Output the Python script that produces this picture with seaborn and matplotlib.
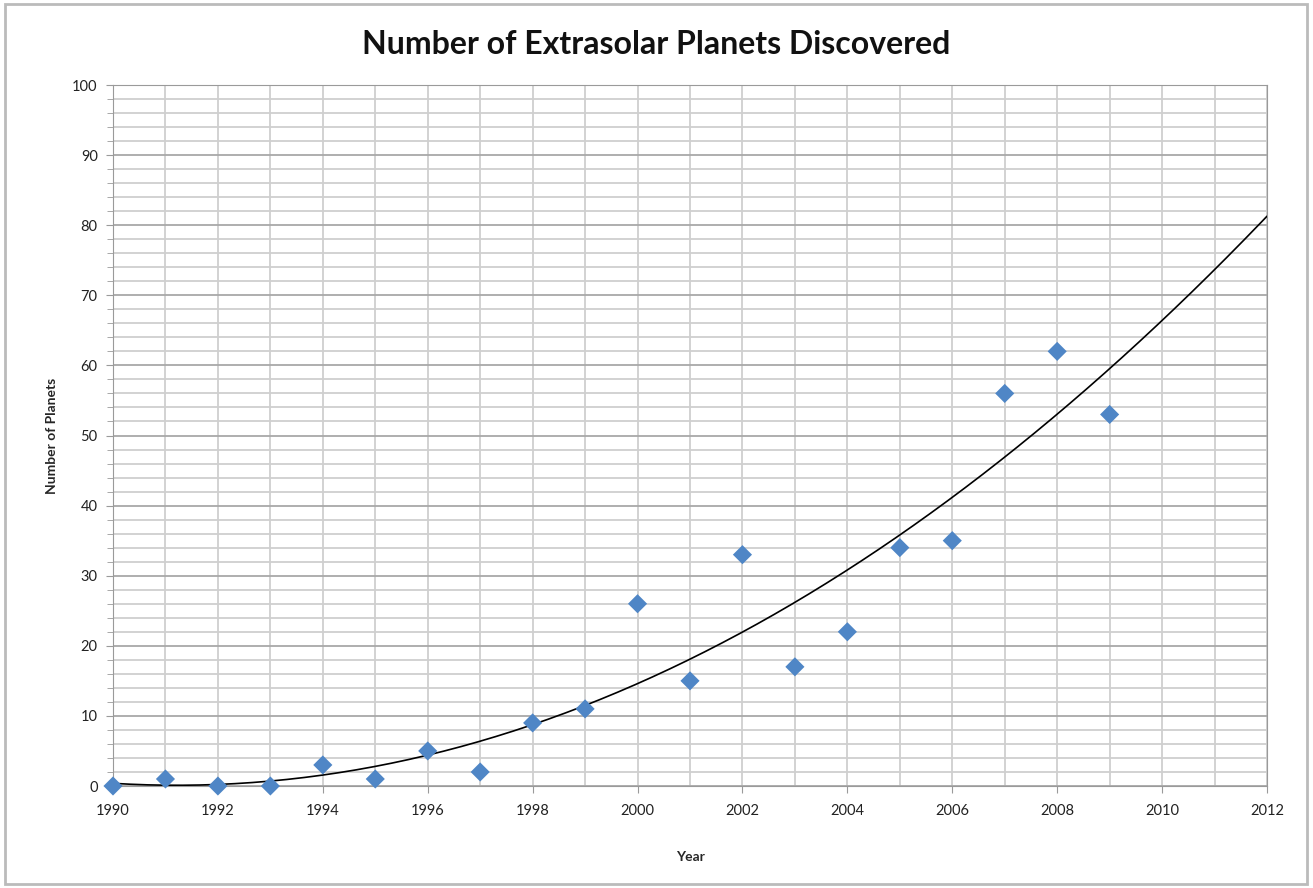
import matplotlib
matplotlib.use('Agg')
import matplotlib.pyplot as plt
import seaborn as sns
import pandas as pd
import numpy as np
from matplotlib.patches import Rectangle
from matplotlib.ticker import MultipleLocator

# data
years = [1990, 1991, 1992, 1993, 1994, 1995, 1996, 1997, 1998, 1999,
         2000, 2001, 2002, 2003, 2004, 2005, 2006, 2007, 2008, 2009]
planets = [0, 1, 0, 0, 3, 1, 5, 2, 9, 11,
           26, 15, 33, 17, 22, 34, 35, 56, 62, 53]

df = pd.DataFrame({'Year': years, 'Planets': planets})

# 2nd order polynomial trendline, like excel
coef = np.polyfit(df['Year'] - 1990, df['Planets'], 2)
trend_x = np.linspace(1990, 2012, 200)
trend = pd.DataFrame({'Year': trend_x, 'Planets': np.polyval(coef, trend_x - 1990)})

sns.set_style('white')
plt.rcParams['font.family'] = ['Lato', 'DejaVu Sans']

fig = plt.figure(figsize=(13.13, 8.88), dpi=100)
ax = fig.add_axes([113/1313, 1 - 786/888, (1267 - 113)/1313, (786 - 85)/888])

# grid
ax.xaxis.set_major_locator(MultipleLocator(2))
ax.xaxis.set_minor_locator(MultipleLocator(1))
ax.yaxis.set_major_locator(MultipleLocator(10))
ax.yaxis.set_minor_locator(MultipleLocator(2))
ax.grid(True, which='major', axis='y', color='#a8a8a8', lw=1.3)
ax.grid(True, which='minor', axis='y', color='#cfcfcf', lw=1.3)
ax.grid(True, which='both', axis='x', color='#cfcfcf', lw=1.3)
ax.set_axisbelow(True)

sns.lineplot(data=trend, x='Year', y='Planets', color='black', lw=1.2, ax=ax, zorder=3)
sns.scatterplot(data=df, x='Year', y='Planets', marker='D', s=95, color='#4f86c6',
                edgecolor='none', ax=ax, zorder=4, clip_on=False)

ax.set_xlim(1990, 2012)
ax.set_ylim(0, 100)
for s in ax.spines.values():
    s.set_color('#9a9a9a')
ax.tick_params(axis='both', which='both', direction='out', color='#9a9a9a',
               labelsize=10.5, labelcolor='#222222')
ax.tick_params(axis='x', which='major', length=5, pad=8, bottom=True)
ax.tick_params(axis='x', which='minor', length=0)
ax.tick_params(axis='y', which='major', length=5, pad=6, left=True)
ax.tick_params(axis='y', which='minor', length=4, left=True)

fig.text(0.5, 1 - 45/888, 'Number of Extrasolar Planets Discovered', fontsize=23,
         fontweight='bold', ha='center', va='center', color='#111111')
ax.set_xlabel('Year', fontsize=10, fontweight='bold', labelpad=24)
ax.set_ylabel('Number of Planets', fontsize=10, fontweight='bold', labelpad=10)

# chart border
fig.patches.append(Rectangle((5/1313, 4/888), 1302/1313, 880/888, transform=fig.transFigure,
                             fill=False, edgecolor='#bbbbbb', lw=2))

fig.savefig('out.png', dpi=100)
